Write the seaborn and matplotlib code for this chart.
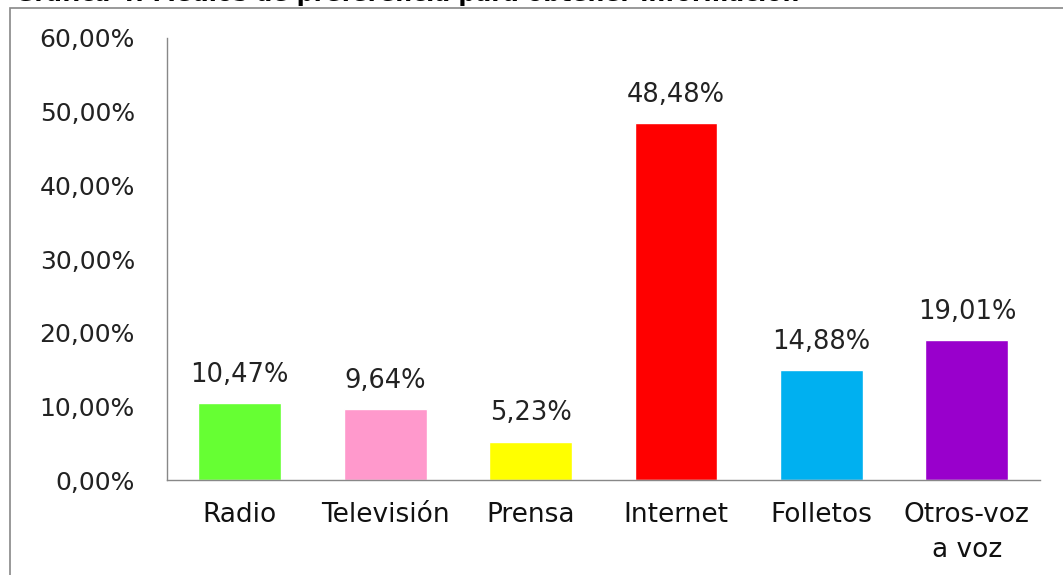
import matplotlib
matplotlib.use("Agg")
import matplotlib.pyplot as plt
import seaborn as sns
import pandas as pd
from matplotlib.patches import Rectangle

categories = ["Radio", "Televisión", "Prensa", "Internet", "Folletos", "Otros-voz\na voz"]
values = [10.47, 9.64, 5.23, 48.48, 14.88, 19.01]
colors = ["#66FF33", "#FF99CC", "#FFFF00", "#FF0000", "#00B0F0", "#9900CC"]
yticks = [0, 10, 20, 30, 40, 50, 60]
title = "Gráfica 4: Medios de preferencia para obtener información"

df = pd.DataFrame({"medio": categories, "pct": values})

sns.set_theme(style="white")
plt.rcParams["font.family"] = ["DejaVu Sans"]

fig = plt.figure(figsize=(10.63, 5.75), dpi=100)
ax = fig.add_axes([0.157, 0.165, 0.821, 0.769])

sns.barplot(data=df, x="medio", y="pct", hue="medio", palette=colors,
            legend=False, width=0.57, saturation=1, ax=ax)

# value labels above bars
for i, v in enumerate(values):
    ax.annotate(f"{v:.2f}%".replace(".", ","), (i, v), xytext=(0, 11),
                textcoords="offset points", ha="center", va="bottom",
                fontsize=18.5, color="#222222")

ax.set_ylim(0, 60)
ax.set_xlim(-0.5, len(categories) - 0.5)
ax.set_yticks(yticks)
ax.set_yticklabels([f"{t:.2f}%".replace(".", ",") for t in yticks],
                   fontsize=18, color="#222222")
ax.tick_params(axis="y", pad=23, length=0)
ax.tick_params(axis="x", pad=16, length=0)
for lab in ax.get_xticklabels():
    lab.set_fontsize(19)
    lab.set_color("#111111")
    lab.set_linespacing(1.45)
ax.set_xlabel("")
ax.set_ylabel("")

for s in ["top", "right"]:
    ax.spines[s].set_visible(False)
for s in ["left", "bottom"]:
    ax.spines[s].set_color("#888888")
    ax.spines[s].set_linewidth(1)

# chart area border
fig.patches.append(Rectangle((10 / 1063, -0.05), 1.1, 1.05 - 8 / 575,
                             transform=fig.transFigure, fill=False,
                             edgecolor="#888888", linewidth=1.2))

# title, mostly cut off at the top edge of the image (as in the source)
fig.text(15 / 1063, 1 - 1.3 / 575, title, ha="left", va="baseline",
         fontsize=17, fontweight="bold", color="black")

fig.savefig("out.png", dpi=100)
